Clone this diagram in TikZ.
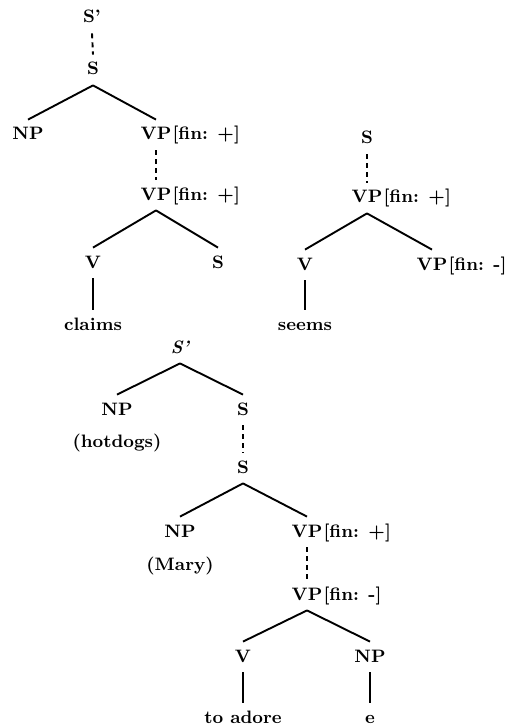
\documentclass[tikz,border=0pt]{standalone}
\usepackage{tikz}
\usetikzlibrary{shapes,arrows}

\begin{document}
\begin{tikzpicture}[x=0.5pt,y=-0.5pt,
   cat/.style={font=\fontsize{9}{11}\selectfont\bfseries, inner xsep=1pt, inner ysep=3.5pt,
               text height=6.5pt, text depth=1.5pt},
   feat/.style={font=\fontsize{9}{11}\selectfont\bfseries, inner sep=0pt, anchor=base west, xshift=-0.8pt},
   branch/.style={line width=0.95pt},
   dots/.style={line width=0.95pt, dash pattern=on 2.5pt off 2pt}]
   \useasboundingbox (0,0) rectangle (510,727);
   % claims
   \node[cat] (sp1) at (92,18) {S'};
   \node[cat] (s1) at (93,70) {S};
   \node[cat] (np1) at (28,135) {NP};
   \node[cat] (vp1) at (156,135) {VP};
   \node[feat] (f1) at (vp1.base east) {[fin: +]};
   \node[cat] (vp2) at (156,195) {VP};
   \node[feat] (f2) at (vp2.base east) {[fin: +]};
   \node[cat] (v1) at (93,263) {V};
   \node[cat] (s2) at (218,263) {S};
   \node[cat] (claims) at (93,325) {claims};
   \draw[dots] (sp1.south) -- (s1.north);
   \draw[branch] (s1.south) -- (np1.north);
   \draw[branch] (s1.south) -- (vp1.north);
   \draw[dots] (vp1.south) -- (vp2.north);
   \draw[branch] (vp2.south) -- (v1.north);
   \draw[branch] (vp2.south) -- (s2.north);
   \draw[branch] (v1.south) -- (claims.north);
   % seems
   \node[cat] (s3) at (367,139) {S};
   \node[cat] (vp3) at (367,198) {VP};
   \node[feat] (f3) at (vp3.base east) {[fin: +]};
   \node[cat] (v2) at (305,265) {V};
   \node[cat] (vp4) at (432,265) {VP};
   \node[feat] (f4) at (vp4.base east) {[fin: -]};
   \node[cat] (seems) at (305,325) {seems};
   \draw[dots] (s3.south) -- (vp3.north);
   \draw[branch] (vp3.south) -- (v2.north);
   \draw[branch] (vp3.south) -- (vp4.north);
   \draw[branch] (v2.south) -- (seems.north);
   % hotdogs
   \node[cat] (sp2) at (180,348) {\itshape S'};
   \node[cat] (np2) at (117,410) {NP};
   \node[cat] (hotdogs) at (117,442) {(hotdogs)};
   \node[cat] (s4) at (243,410) {S};
   \node[cat] (s5) at (243,468) {S};
   \node[cat] (np3) at (180,532) {NP};
   \node[cat] (mary) at (180,565) {(Mary)};
   \node[cat] (vp5) at (307,532) {VP};
   \node[feat] (f5) at (vp5.base east) {[fin: +]};
   \node[cat] (vp6) at (307,595) {VP};
   \node[feat] (f6) at (vp6.base east) {[fin: -]};
   \node[cat] (v3) at (243,657) {V};
   \node[cat] (np4) at (370,657) {NP};
   \node[cat] (adore) at (243,718) {to adore};
   \node[cat] (e) at (370,718) {e};
   \draw[branch] (sp2.south) -- (np2.north);
   \draw[branch] (sp2.south) -- (s4.north);
   \draw[dots] (s4.south) -- (s5.north);
   \draw[branch] (s5.south) -- (np3.north);
   \draw[branch] (s5.south) -- (vp5.north);
   \draw[dots] (vp5.south) -- (vp6.north);
   \draw[branch] (vp6.south) -- (v3.north);
   \draw[branch] (vp6.south) -- (np4.north);
   \draw[branch] (v3.south) -- (adore.north);
   \draw[branch] (np4.south) -- (e.north);
  \end{tikzpicture}
\end{document}
